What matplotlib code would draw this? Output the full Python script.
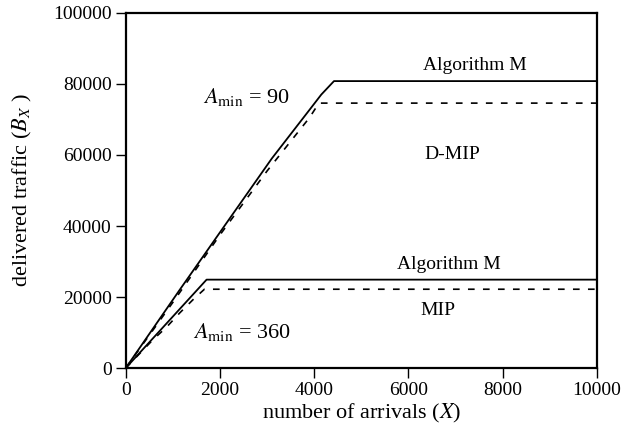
import matplotlib.pyplot as plt

# curva Amin = 90
x_alg90 = [0, 1144, 2200, 3100, 3900, 4150, 4420, 10000]
y_alg90 = [0, 22000, 42000, 59000, 72700, 77000, 80800, 80800]
x_dmip = [0, 1000, 2000, 3000, 3900, 4100, 10000]
y_dmip = [0, 18500, 37500, 55500, 70500, 74600, 74600]

# curva Amin = 360
x_alg360 = [0, 1716, 10000]
y_alg360 = [0, 24900, 24900]
x_mip = [0, 572, 868, 1144, 1420, 1670, 10000]
y_mip = [0, 7900, 11550, 15500, 19150, 22200, 22200]

xticks = [0, 2000, 4000, 6000, 8000, 10000]
yticks = [0, 20000, 40000, 60000, 80000, 100000]

plt.rcParams['font.family'] = ['Liberation Serif', 'DejaVu Serif']
plt.rcParams['mathtext.fontset'] = 'stix'

fig = plt.figure(figsize=(6.35, 4.3), dpi=100)
ax = fig.add_axes([0.198, 0.144, 0.742, 0.826])

ax.plot(x_alg90, y_alg90, color='black', lw=1.3)
ax.plot(x_dmip, y_dmip, color='black', lw=1.2, dashes=(4, 5))
ax.plot(x_alg360, y_alg360, color='black', lw=1.3)
ax.plot(x_mip, y_mip, color='black', lw=1.2, dashes=(4, 5))

ax.set_xlim(0, 10000)
ax.set_ylim(0, 100000)
ax.set_xticks(xticks)
ax.set_yticks(yticks)
ax.tick_params(direction='out', length=7, width=1, labelsize=14, pad=3)
for s in ax.spines.values():
    s.set_linewidth(1.6)

ax.set_xlabel(r'number of arrivals ($X$)', fontsize=16, labelpad=2)
ax.set_ylabel(r'delivered traffic ($B_X$ )', fontsize=16, labelpad=14)

# etiquetas
ax.text(7400, 85300, 'Algorithm M', fontsize=14, ha='center', va='center')
ax.text(6930, 60000, 'D-MIP', fontsize=14, ha='center', va='center')
ax.text(6860, 29300, 'Algorithm M', fontsize=14, ha='center', va='center')
ax.text(6620, 16300, 'MIP', fontsize=14, ha='center', va='center')
ax.text(1650, 74500, r'$A_{\mathrm{min}}$ = 90', fontsize=16, ha='left', va='baseline')
ax.text(1420, 8500, r'$A_{\mathrm{min}}$ = 360', fontsize=16, ha='left', va='baseline')

fig.savefig('out.png', dpi=100)
